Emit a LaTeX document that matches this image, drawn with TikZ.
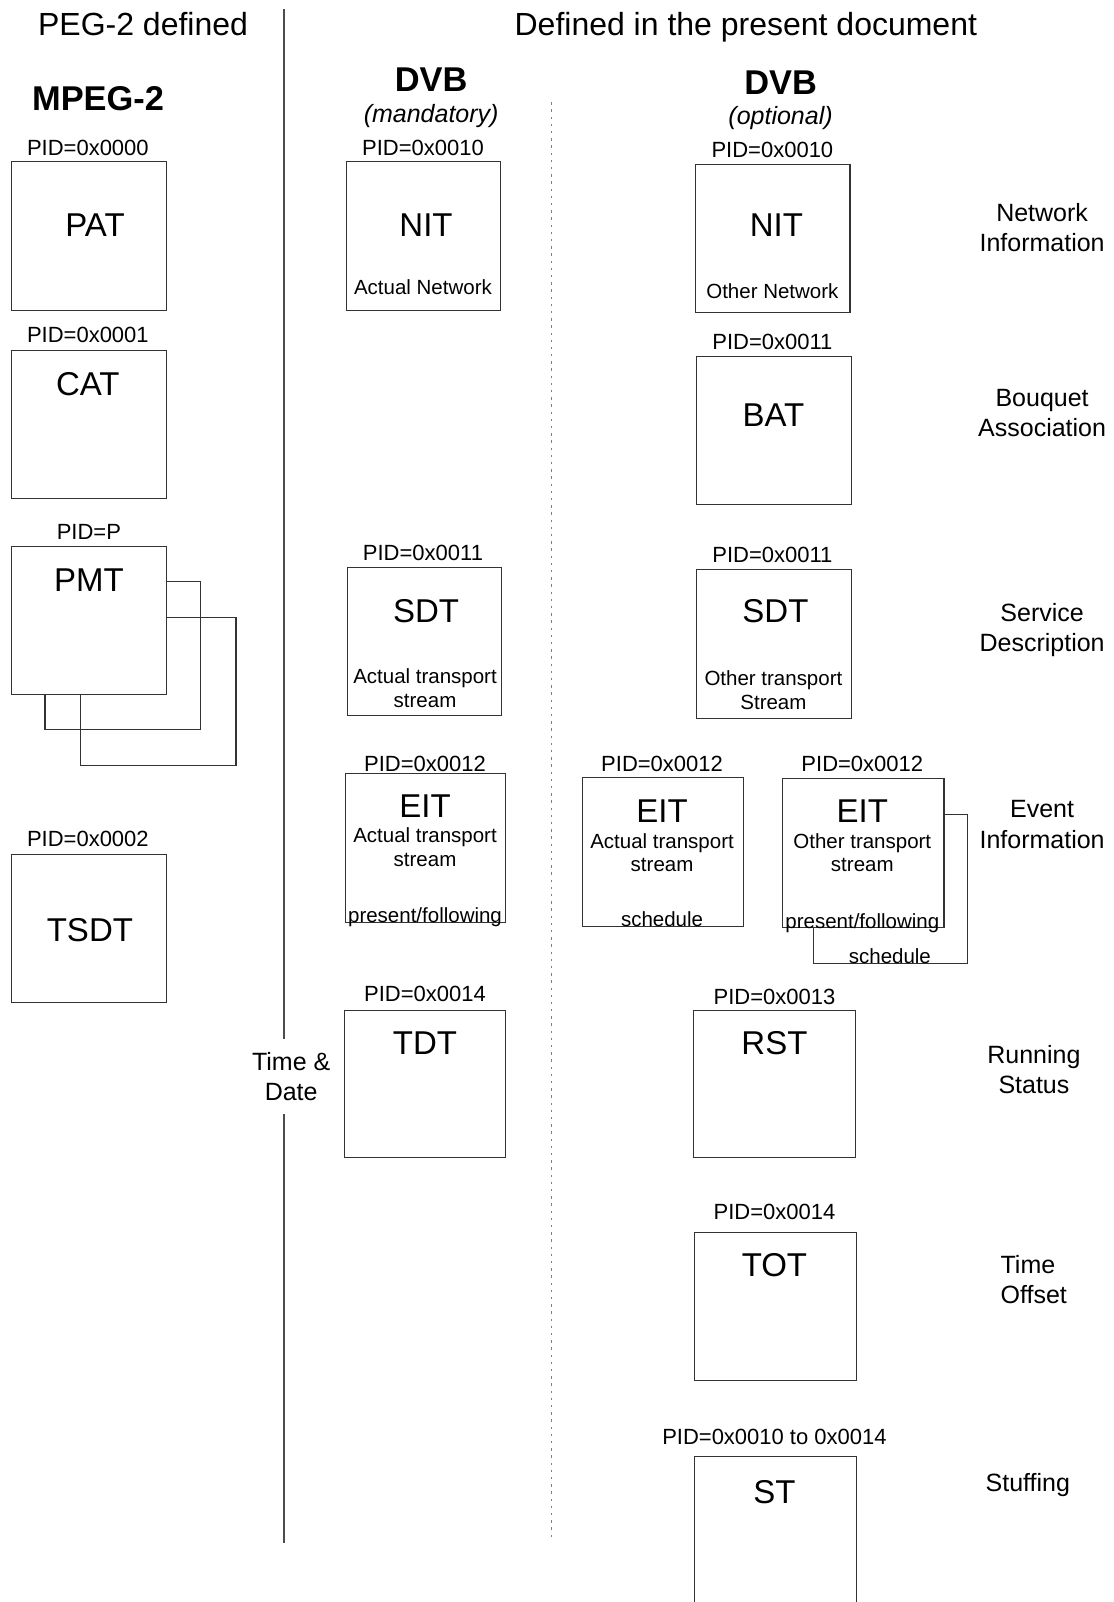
\documentclass[tikz,border=0pt]{standalone}
\usepackage{fontspec}
\setmainfont{Liberation Sans}
\newcommand{\dpx}{0.511pt}
\newcommand{\hdfont}{\fontsize{16}{19}\selectfont}
\newcommand{\colhdfont}{\fontsize{17.2}{20}\selectfont\bfseries}
\newcommand{\optfont}{\fontsize{12.5}{15}\selectfont\itshape}
\newcommand{\tabfont}{\fontsize{16.5}{19}\selectfont}
\newcommand{\pidfont}{\fontsize{11}{13}\selectfont}
\newcommand{\subtxtfont}{\fontsize{10.25}{11.75}\selectfont}
\newcommand{\sidefont}{\fontsize{12.5}{15.1}\selectfont}
\tikzset{
  tbl/.style={draw=black!80,line width=0.55pt,fill=white,inner sep=0pt,
    minimum width=152*\dpx,minimum height=145*\dpx},
  widetbl/.style={tbl,minimum width=158*\dpx},
  pid/.style={font=\pidfont,anchor=base,inner sep=0pt},
  tname/.style={font=\tabfont,anchor=base,inner sep=0pt},
  subtxt/.style={font=\subtxtfont,anchor=base,inner sep=0pt,align=center},
  side/.style={font=\sidefont,anchor=base,inner sep=0pt,align=center},
  sepline/.style={draw=black!70,line width=0.55pt},
  dotline/.style={draw=black!50,line width=0.55pt,dash pattern=on 1.2pt off 2.4pt}
}
\begin{document}
\begin{tikzpicture}[x=0.511pt,y=-0.511pt]
\useasboundingbox (0,0) rectangle (1090,1568);
\clip (0,0) rectangle (1090,1568);
\node[font=\hdfont,anchor=base,inner sep=0pt] (hmpeg) at (140,35) {PEG-2 defined};
\node[font=\hdfont,anchor=base,inner sep=0pt] (hdvb) at (730,35) {Defined in the present document};
\coordinate (septop) at (278,9);
\coordinate (sepgapa) at (278,1017);
\coordinate (sepgapb) at (278,1090);
\coordinate (sepbot) at (278,1510);
\draw[sepline] (septop) -- (sepgapa);
\draw[sepline] (sepgapb) -- (sepbot);
\coordinate (dottop) at (540,100);
\coordinate (dotbot) at (540,1505);
\draw[dotline] (dottop) -- (dotbot);
\node[side] (timedate) at (285,1077) {Time \&\\Date};
% MPEG-2 column
\node[font=\colhdfont,anchor=base,inner sep=0pt] (mpeg) at (96,108) {MPEG-2};
\node[tbl] (pat) at (87,231) {};
\node[pid] (patpid) at (86,152) {PID=0x0000};
\node[tname] (patname) at (93,231.5) {PAT};
\node[tbl] (cat) at (87,415.5) {};
\node[pid] (catpid) at (86,335) {PID=0x0001};
\node[tname] (catname) at (86,387.5) {CAT};
\node[tbl,fill=none] (pmtc) at (155,676.5) {};
\node[tbl,fill=none] (pmtb) at (120,641.5) {};
\node[tbl] (pmt) at (87,607) {};
\node[pid] (pmtpid) at (87,528) {PID=P};
\node[tname] (pmtname) at (87,578.5) {PMT};
\node[tbl] (tsdt) at (87,909) {};
\node[pid] (tsdtpid) at (86,829) {PID=0x0002};
\node[tname] (tsdtname) at (88,921.5) {TSDT};
% DVB mandatory
\node[font=\colhdfont,anchor=base,inner sep=0pt] (dvbm) at (422,90) {DVB};
\node[font=\optfont,anchor=base,inner sep=0pt] (mand) at (422,120) {(mandatory)};
\node[tbl,minimum width=151*\dpx] (nitm) at (414.5,231) {};
\node[pid] (nitmpid) at (414,152) {PID=0x0010};
\node[tname] (nitmname) at (417,231.5) {NIT};
\node[subtxt] (nitmsub) at (414,288) {Actual Network};
\node[tbl,minimum width=151*\dpx] (sdtm) at (415.5,628) {};
\node[pid] (sdtmpid) at (414,549) {PID=0x0011};
\node[tname] (sdtmname) at (417,609.5) {SDT};
\node[subtxt] (sdtmsub) at (416,692) {Actual transport\\stream};
\node[tbl,minimum width=157*\dpx,minimum height=146*\dpx] (eitm) at (416.5,830) {};
\node[pid] (eitmpid) at (416,755) {PID=0x0012};
\node[tname] (eitmname) at (416,800.5) {EIT};
\node[subtxt] (eitmsub) at (416,848) {Actual transport\\stream};
\node[subtxt] (eitmpf) at (416,903) {present/following};
\node[widetbl,minimum height=144*\dpx] (tdt) at (416,1061) {};
\node[pid] (tdtpid) at (416,980) {PID=0x0014};
\node[tname] (tdtname) at (416,1032.5) {TDT};
% DVB optional
\node[font=\colhdfont,anchor=base,inner sep=0pt] (dvbo) at (764,92) {DVB};
\node[font=\optfont,anchor=base,inner sep=0pt] (opt) at (764,122) {(optional)};
\node[tbl,minimum width=151*\dpx] (nito) at (756.5,233.5) {};
\node[pid] (nitopid) at (756,154) {PID=0x0010};
\node[tname] (nitoname) at (760,231.5) {NIT};
\node[subtxt] (nitosub) at (756,292) {Other Network};
\node[tbl,minimum width=151*\dpx] (bat) at (757.5,421.5) {};
\node[pid] (batpid) at (756,342) {PID=0x0011};
\node[tname] (batname) at (757,417.5) {BAT};
\node[tbl,minimum width=151*\dpx,minimum height=146*\dpx] (sdto) at (757.5,630) {};
\node[pid] (sdtopid) at (756,551) {PID=0x0011};
\node[tname] (sdtoname) at (759,609.5) {SDT};
\node[subtxt] (sdtosub) at (757,694) {Other transport\\Stream};
\node[widetbl,minimum height=146*\dpx] (eits) at (649,834) {};
\node[pid] (eitspid) at (648,755) {PID=0x0012};
\node[tname] (eitsname) at (648,805.5) {EIT};
\node[subtxt] (eitssub) at (648,853) {Actual transport\\stream};
\node[subtxt] (eitssch) at (648,907) {schedule};
\node[tbl,minimum width=151*\dpx,minimum height=146*\dpx] (eitb) at (871.5,870) {};
\node[widetbl,minimum height=146*\dpx] (eito) at (845,835) {};
\node[pid] (eitopid) at (844,755) {PID=0x0012};
\node[tname] (eitoname) at (844,805.5) {EIT};
\node[subtxt] (eitosub) at (844,853) {Other transport\\stream};
\node[subtxt] (eitopf) at (844,909) {present/following};
\node[subtxt] (eitosch) at (871,943) {schedule};
\node[widetbl,minimum height=144*\dpx] (rst) at (758,1061) {};
\node[pid] (rstpid) at (758,983) {PID=0x0013};
\node[tname] (rstname) at (758,1032.5) {RST};
\node[widetbl] (tot) at (759,1278.5) {};
\node[pid] (totpid) at (758,1194) {PID=0x0014};
\node[tname] (totname) at (758,1249.5) {TOT};
\node[widetbl] (st) at (759,1498.5) {};
\node[pid] (stpid) at (758,1414) {PID=0x0010 to 0x0014};
\node[tname] (stname) at (758,1471.5) {ST};
% table groups
\node[side] (netinfo) at (1020,246) {Network\\Information};
\node[side] (bouquet) at (1020,427) {Bouquet\\Association};
\node[side] (service) at (1020,638) {Service\\Description};
\node[side] (event) at (1020,830) {Event\\Information};
\node[side] (running) at (1012,1070) {Running\\Status};
\node[side,align=left,anchor=base west] (timeoff) at (979,1276) {Time\\Offset};
\node[side] (stuffing) at (1006,1460) {Stuffing};
\end{tikzpicture}
\end{document}
